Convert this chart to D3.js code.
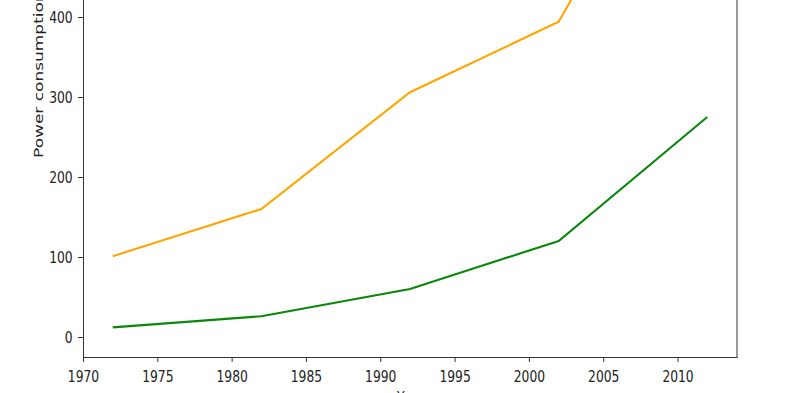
<!DOCTYPE html>
<html>
<head>
<meta charset="utf-8">
<script src="https://cdn.jsdelivr.net/npm/d3@7"></script>
<style>
html,body{margin:0;padding:0;background:#fff;overflow:hidden;}
svg{display:block;}
text{font-family:"DejaVu Sans",sans-serif;}
</style>
</head>
<body>
<script>
// Data
const years = [1972, 1982, 1992, 2002, 2012];
const seriesOrange = [101, 160, 306, 394, 720];
const seriesGreen = [12, 26, 60, 120, 275];
const xTicks = [1970, 1975, 1980, 1985, 1990, 1995, 2000, 2005, 2010];
const yTicks = [0, 100, 200, 300, 400];
const xLabel = "Year";
const yLabel = "Power consumption (TWh)";

(function () {
const W = 800, H = 393;
const pLeft = 83, pRight = 737, pBottom = 357, pTop = -259;
const sx = 0.77; // horizontal compression of glyphs
const fontSize = 16;

const svg = d3.select("body").append("svg").attr("width", W).attr("height", H);

const x = d3.scaleLinear().domain([1970, 2014]).range([pLeft, pRight]);
const y = d3.scaleLinear().domain([-25, 745]).range([pBottom, pTop]);

const line = d3.line().x((d, i) => x(years[i])).y(d => y(d));

svg.append("path").datum(seriesOrange)
  .attr("d", line).attr("fill", "none").attr("stroke", "#ffa500").attr("stroke-width", 2.1);
svg.append("path").datum(seriesGreen)
  .attr("d", line).attr("fill", "none").attr("stroke", "#0a860a").attr("stroke-width", 2.1);

// Axes
const xAxis = d3.axisBottom(x).tickValues(xTicks).tickFormat(d3.format("d")).tickSize(5).tickSizeOuter(0);
const gx = svg.append("g").attr("transform", `translate(0,${pBottom})`).call(xAxis);
gx.selectAll("text")
  .attr("x", null).attr("y", null).attr("dy", null)
  .attr("transform", `translate(0,24.7) scale(${sx},1)`)
  .attr("font-size", fontSize).attr("fill", "#222")
  .style("font-family", '"DejaVu Sans",sans-serif');

const yAxis = d3.axisLeft(y).tickValues(yTicks).tickFormat(d3.format("d")).tickSize(5).tickSizeOuter(0);
const gy = svg.append("g").attr("transform", `translate(${pLeft},0)`).call(yAxis);
gy.selectAll("text")
  .attr("x", null).attr("y", null).attr("dy", null)
  .attr("text-anchor", "end")
  .attr("transform", `translate(-10.3,5.8) scale(${sx},1)`)
  .attr("font-size", fontSize).attr("fill", "#222")
  .style("font-family", '"DejaVu Sans",sans-serif');

[gx, gy].forEach(g => {
  g.select(".domain").attr("stroke", "#333").attr("stroke-width", 1);
  g.selectAll(".tick line").attr("stroke", "#333").attr("stroke-width", 1);
});

// Right spine
svg.append("line")
  .attr("x1", pRight).attr("x2", pRight).attr("y1", pTop).attr("y2", pBottom + 0.5)
  .attr("stroke", "#333").attr("stroke-width", 1);

// Axis labels
svg.append("text")
  .attr("transform", `translate(${(pLeft + pRight) / 2},403) scale(${sx},1)`)
  .attr("text-anchor", "middle").attr("font-size", fontSize).attr("fill", "#222")
  .text(xLabel);

svg.append("text")
  .attr("transform", `translate(42.5,158) scale(${sx * 16 / 17},1) rotate(-90)`)
  .attr("text-anchor", "start").attr("font-size", 17).attr("fill", "#222")
  .text(yLabel);
})();
</script>
</body>
</html>
